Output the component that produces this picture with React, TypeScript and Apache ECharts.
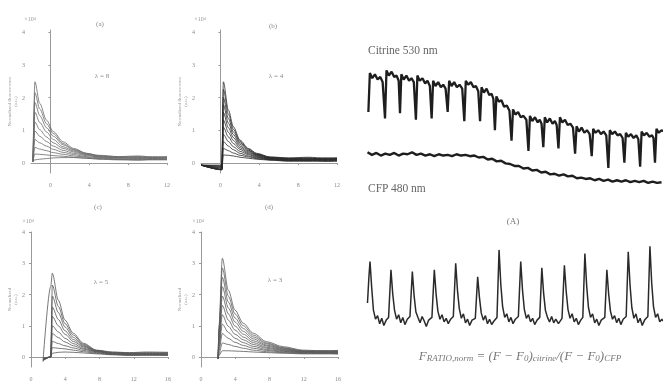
import React, { useEffect, useRef } from 'react';
import * as echarts from 'echarts';

const FONT = 'Liberation Serif, DejaVu Serif, serif';

// ---------- Left panels: families of decay curves ----------
const topXTicks = [0, 4, 8, 12];
const bottomXTicks = [0, 4, 8, 12, 16];
const yTicks = [0, 1, 2, 3, 4];

const panelAX = [-1.8, -1.6, -1.1, -0.4, 0.3, 1.3, 2.4, 3.7, 5, 7, 9, 11, 12];
const panelACurves = [
  [0.05, 2.48, 1.82, 1.31, 0.96, 0.65, 0.45, 0.3, 0.24, 0.2, 0.22, 0.18, 0.2],
  [0.05, 2.15, 1.65, 1.2, 0.9, 0.6, 0.42, 0.3, 0.22, 0.18, 0.2, 0.16, 0.18],
  [0.05, 1.85, 1.45, 1.08, 0.82, 0.56, 0.4, 0.28, 0.22, 0.2, 0.17, 0.2, 0.19],
  [0.05, 1.55, 1.24, 0.95, 0.72, 0.5, 0.37, 0.27, 0.2, 0.17, 0.19, 0.15, 0.17],
  [0.05, 1.25, 1.02, 0.8, 0.62, 0.45, 0.34, 0.25, 0.19, 0.16, 0.14, 0.17, 0.15],
  [0.05, 0.98, 0.82, 0.66, 0.52, 0.39, 0.3, 0.23, 0.18, 0.15, 0.16, 0.13, 0.14],
  [0.05, 0.72, 0.62, 0.52, 0.42, 0.33, 0.26, 0.2, 0.16, 0.13, 0.12, 0.14, 0.13],
  [0.05, 0.48, 0.43, 0.38, 0.32, 0.27, 0.22, 0.18, 0.14, 0.11, 0.12, 0.1, 0.11],
  [0.05, 0.28, 0.27, 0.25, 0.23, 0.21, 0.18, 0.15, 0.12, 0.1, 0.09, 0.11, 0.1],
  [0.05, 0.1, 0.12, 0.14, 0.16, 0.17, 0.17, 0.15, 0.13, 0.12, 0.1, 0.12, 0.11],
];

const panelBX = [-2, 0.15, 0.3, 0.82, 1.33, 2.02, 2.87, 3.74, 5.1, 7, 9, 11, 12];
const panelBCurves = [
  [-0.06, -0.06, 2.48, 1.62, 1.11, 0.7, 0.45, 0.3, 0.19, 0.16, 0.18, 0.15, 0.17],
  [-0.06, -0.08, 2.25, 1.5, 1.03, 0.66, 0.43, 0.28, 0.18, 0.15, 0.13, 0.16, 0.14],
  [-0.06, -0.1, 2.0, 1.36, 0.95, 0.62, 0.4, 0.27, 0.17, 0.14, 0.16, 0.12, 0.15],
  [-0.06, -0.12, 1.78, 1.22, 0.87, 0.57, 0.38, 0.25, 0.16, 0.13, 0.12, 0.14, 0.13],
  [-0.06, -0.14, 1.55, 1.08, 0.78, 0.52, 0.35, 0.24, 0.15, 0.12, 0.14, 0.11, 0.12],
  [-0.06, -0.16, 1.32, 0.94, 0.69, 0.47, 0.32, 0.22, 0.14, 0.11, 0.1, 0.12, 0.11],
  [-0.06, -0.18, 1.1, 0.8, 0.6, 0.42, 0.29, 0.2, 0.13, 0.1, 0.12, 0.09, 0.1],
  [-0.06, -0.2, 0.88, 0.66, 0.5, 0.36, 0.26, 0.18, 0.12, 0.09, 0.08, 0.1, 0.09],
  [-0.06, -0.2, 0.66, 0.52, 0.41, 0.3, 0.22, 0.16, 0.11, 0.08, 0.09, 0.07, 0.08],
  [-0.06, -0.2, 0.45, 0.38, 0.31, 0.24, 0.19, 0.14, 0.1, 0.07, 0.06, 0.08, 0.07],
  [-0.06, -0.2, 0.25, 0.24, 0.22, 0.18, 0.15, 0.12, 0.09, 0.06, 0.07, 0.05, 0.06],
];

const panelCX = [1.4, 2.3, 2.49, 3.19, 3.97, 4.94, 6.11, 7.67, 9.5, 11.5, 13.5, 16];
const panelCCurves = [
  [-0.15, 2.25, 2.68, 1.82, 1.18, 0.76, 0.44, 0.22, 0.16, 0.14, 0.16, 0.15],
  [-0.12, 0.0, 2.3, 1.62, 1.07, 0.7, 0.41, 0.21, 0.15, 0.13, 0.12, 0.14],
  [-0.1, 0.0, 1.95, 1.42, 0.96, 0.63, 0.38, 0.2, 0.14, 0.12, 0.14, 0.12],
  [-0.1, 0.0, 1.6, 1.2, 0.84, 0.56, 0.35, 0.19, 0.13, 0.11, 0.1, 0.12],
  [-0.08, 0.0, 1.3, 1.0, 0.73, 0.5, 0.32, 0.18, 0.12, 0.1, 0.11, 0.09],
  [-0.08, 0.0, 1.0, 0.8, 0.6, 0.43, 0.28, 0.17, 0.11, 0.09, 0.08, 0.1],
  [-0.06, 0.0, 0.75, 0.62, 0.48, 0.36, 0.25, 0.16, 0.1, 0.08, 0.09, 0.07],
  [-0.05, 0.0, 0.5, 0.43, 0.36, 0.29, 0.21, 0.14, 0.09, 0.07, 0.06, 0.08],
  [-0.05, 0.0, 0.3, 0.28, 0.26, 0.22, 0.17, 0.12, 0.08, 0.06, 0.07, 0.05],
  [-0.05, 0.0, 0.12, 0.15, 0.16, 0.15, 0.13, 0.1, 0.07, 0.05, 0.06, 0.05],
];

const panelDX = [2.0, 2.1, 2.49, 3.19, 3.97, 4.94, 6.11, 7.67, 9.6, 11.9, 14, 16];
const panelDCurves = [
  [-0.05, 1.0, 3.16, 2.14, 1.5, 1.08, 0.76, 0.49, 0.33, 0.22, 0.2, 0.21],
  [-0.05, 0.9, 2.85, 1.95, 1.38, 1.0, 0.7, 0.45, 0.3, 0.2, 0.18, 0.2],
  [-0.05, 0.8, 2.55, 1.76, 1.25, 0.91, 0.64, 0.42, 0.28, 0.19, 0.2, 0.17],
  [-0.05, 0.7, 2.25, 1.57, 1.12, 0.82, 0.58, 0.38, 0.26, 0.18, 0.16, 0.18],
  [-0.05, 0.6, 1.95, 1.38, 0.99, 0.73, 0.52, 0.35, 0.24, 0.17, 0.18, 0.15],
  [-0.05, 0.5, 1.65, 1.18, 0.86, 0.64, 0.46, 0.31, 0.22, 0.16, 0.14, 0.16],
  [-0.05, 0.4, 1.35, 0.98, 0.73, 0.55, 0.4, 0.28, 0.2, 0.15, 0.16, 0.13],
  [-0.05, 0.3, 1.05, 0.79, 0.6, 0.46, 0.34, 0.24, 0.18, 0.14, 0.12, 0.14],
  [-0.05, 0.2, 0.75, 0.6, 0.47, 0.37, 0.28, 0.21, 0.16, 0.13, 0.14, 0.11],
  [-0.05, 0.1, 0.45, 0.4, 0.34, 0.28, 0.22, 0.17, 0.14, 0.11, 0.1, 0.12],
  [-0.05, 0.05, 0.2, 0.2, 0.19, 0.18, 0.16, 0.14, 0.12, 0.1, 0.11, 0.09],
];

const panelTitles = ['(a)', '(b)', '(c)', '(d)'];
const panelParams = ['λ = 8', 'λ = 4', 'λ = 5', 'λ = 3'];

// ---------- Right: fluorescence traces ----------
const citrineTrace: [number, number][] = [
  [0.8, 60], [1.3, 90], [2.1, 86], [3.0, 89], [3.9, 85], [4.8, 87], [5.6, 83],
  [6.4, 55], [6.9, 92], [7.7, 88], [8.6, 91], [9.5, 87], [10.3, 88], [11.0, 84],
  [11.45, 59], [11.9, 89], [12.7, 85], [13.6, 88], [14.5, 84], [15.3, 86], [16.1, 83],
  [16.8, 54], [17.3, 88], [18.1, 84], [19.0, 86], [19.9, 82], [20.7, 84], [21.5, 80],
  [22.1, 55], [22.6, 84], [23.4, 80], [24.3, 83], [25.2, 79], [26.0, 81], [26.8, 78],
  [27.5, 60], [28.0, 84], [28.8, 80], [29.7, 83], [30.6, 79], [31.5, 81], [32.4, 78],
  [33.1, 53], [33.6, 84], [34.4, 81], [35.3, 83], [36.2, 79], [37.0, 80], [37.8, 76],
  [38.4, 53], [38.9, 79], [39.7, 75], [40.6, 78], [41.5, 73], [42.3, 74], [42.9, 70],
  [43.4, 46], [43.9, 72], [44.7, 68], [45.6, 69], [46.5, 64], [47.4, 65], [48.3, 61],
  [49.0, 38], [49.5, 62], [50.3, 58], [51.2, 60], [52.1, 56], [53.0, 57], [54.0, 54],
  [54.7, 30], [55.2, 57], [56.0, 53], [56.9, 56], [57.8, 52], [58.5, 54], [59.1, 51],
  [59.7, 33], [60.2, 56], [61.0, 52], [61.9, 55], [62.8, 51], [63.6, 53], [64.2, 50],
  [64.8, 32], [65.3, 56], [66.1, 52], [67.0, 54], [67.9, 50], [68.8, 51], [69.7, 48],
  [70.4, 28], [70.9, 49], [71.7, 45], [72.6, 48], [73.5, 44], [74.4, 46], [75.3, 43],
  [76.0, 26], [76.5, 47], [77.3, 44], [78.2, 46], [79.1, 43], [80.0, 45], [80.9, 42],
  [81.6, 17], [82.1, 46], [82.9, 43], [83.8, 45], [84.7, 42], [85.6, 43], [86.4, 40],
  [87.0, 21], [87.5, 44], [88.3, 41], [89.2, 43], [90.1, 40], [91.0, 42], [91.7, 39],
  [92.3, 18], [92.8, 45], [93.6, 42], [94.5, 44], [95.4, 41], [96.3, 42], [96.8, 40],
  [97.3, 21], [97.8, 47], [98.6, 44], [99.5, 46], [100, 45],
];

const cfpTrace: [number, number][] = [
  [0.5, 29], [2, 27], [3.5, 28.5], [5, 26.5], [6.5, 28], [8, 27], [9.5, 28.5], [11, 26.5],
  [12.5, 28], [14, 27.5], [15.5, 29], [17, 27], [18.5, 28], [20, 26.5], [21.5, 27.5], [23, 26],
  [24.5, 27.5], [26, 26.5], [27.5, 27], [29, 26], [30.5, 27.5], [32, 26.5], [33.5, 27], [35, 26],
  [36.5, 26.5], [38, 25], [39.5, 25.5], [41, 23.5], [42.5, 24], [44, 22], [45.5, 22.5], [47, 20.5],
  [48.5, 20], [50, 18.5], [51.5, 18.5], [53, 16.5], [54.5, 17], [56, 15], [57.5, 15.5], [59, 13.5],
  [60.5, 14], [62, 12], [63.5, 12.5], [65, 11], [66.5, 12], [68, 10.5], [69.5, 11], [71, 9],
  [72.5, 9.5], [74, 8.5], [75.5, 9], [77, 7.5], [78.5, 8.5], [80, 7], [81.5, 8], [83, 6.5],
  [84.5, 7.5], [86, 6.5], [87.5, 7.5], [89, 6], [90.5, 7], [92, 6], [93.5, 7], [95, 5.5],
  [96.5, 6.5], [98, 5.5], [99.5, 6],
];

const ratioTrace: [number, number][] = [
  [0.5, 30], [1.0, 60], [1.35, 76], [1.9, 48], [2.5, 22], [3.2, 12], [3.9, 16], [4.6, 7], [5.3, 13], [6.0, 5], [6.8, 11], [7.6, 14],
  [8.4, 67], [9.0, 40], [9.6, 22], [10.3, 12], [11.0, 17], [11.7, 8], [12.4, 14], [13.1, 6], [13.9, 12], [14.8, 15],
  [15.6, 65], [16.2, 38], [16.8, 20], [17.5, 14], [18.2, 8], [18.9, 15], [19.6, 10], [20.3, 4], [21.1, 11], [22.2, 14],
  [23.0, 67], [23.6, 40], [24.2, 21], [24.9, 12], [25.6, 17], [26.3, 9], [27.0, 13], [27.7, 7], [28.5, 12], [29.4, 15],
  [30.2, 74], [30.8, 44], [31.4, 24], [32.1, 13], [32.8, 18], [33.5, 8], [34.2, 12], [34.9, 5], [35.7, 11], [36.8, 13],
  [37.6, 59], [38.2, 36], [38.8, 19], [39.5, 11], [40.2, 16], [40.9, 7], [41.6, 12], [42.3, 6], [43.1, 10], [44.1, 14],
  [44.8, 89], [45.4, 50], [46.0, 26], [46.7, 14], [47.4, 18], [48.1, 9], [48.8, 14], [49.5, 7], [50.3, 12], [51.3, 15],
  [52.1, 76], [52.7, 44], [53.3, 23], [54.0, 13], [54.7, 17], [55.4, 9], [56.1, 13], [56.8, 6], [57.6, 11], [58.5, 14],
  [59.2, 69], [59.8, 41], [60.4, 22], [61.1, 14], [61.8, 9], [62.5, 15], [63.2, 8], [63.9, 12], [64.8, 7], [66.0, 13],
  [66.8, 72], [67.4, 43], [68.0, 23], [68.7, 13], [69.4, 18], [70.1, 9], [70.8, 13], [71.5, 6], [72.3, 11], [73.0, 14],
  [73.7, 85], [74.3, 49], [74.9, 25], [75.6, 14], [76.3, 18], [77.0, 8], [77.7, 12], [78.4, 5], [79.2, 11], [80.4, 14],
  [81.1, 67], [81.7, 40], [82.3, 21], [83.0, 12], [83.7, 16], [84.4, 8], [85.1, 13], [85.8, 6], [86.6, 12], [87.6, 15],
  [88.3, 87], [88.9, 50], [89.5, 25], [90.2, 13], [90.9, 18], [91.6, 8], [92.3, 13], [93.0, 5], [93.8, 11], [94.9, 15],
  [95.6, 93], [96.2, 52], [96.8, 26], [97.5, 14], [98.2, 18], [98.9, 9], [99.6, 12], [100, 10],
];

// ---------- Option ----------
const panels = [
  { x: panelAX, curves: panelACurves, color: '#6a6a6a', xMin: -2, xMax: 12, xTicks: topXTicks, yMin: -0.3, yMax: 4.06, yName: 'Normalized fluorescence\n(a.u.)' },
  { x: panelBX, curves: panelBCurves, color: '#2a2a2a', xMin: -2, xMax: 12, xTicks: topXTicks, yMin: -0.3, yMax: 4.06, yName: 'Normalized fluorescence\n(a.u.)' },
  { x: panelCX, curves: panelCCurves, color: '#555555', xMin: 0, xMax: 16, xTicks: bottomXTicks, yMin: -0.32, yMax: 4.0, yName: 'Normalized\n(a.u.)' },
  { x: panelDX, curves: panelDCurves, color: '#5a5a5a', xMin: 0, xMax: 16, xTicks: bottomXTicks, yMin: -0.32, yMax: 4.0, yName: 'Normalized\n(a.u.)' },
];

const grids = [
  { left: 31, top: 30, width: 136, height: 143 },
  { left: 201, top: 30, width: 136, height: 143 },
  { left: 31, top: 232, width: 137, height: 135 },
  { left: 201, top: 232, width: 137, height: 135 },
  { left: 366, top: 60, width: 297, height: 130 },
  { left: 366, top: 240, width: 297, height: 90 },
];

function buildOption() {
  const axisColor = '#9a9a9a';
  const labelColor = '#8a8a8a';
  const xAxis: any[] = [];
  const yAxis: any[] = [];
  const series: any[] = [];

  panels.forEach((p, i) => {
    xAxis.push({
      gridIndex: i,
      type: 'value',
      min: p.xMin,
      max: p.xMax,
      axisLine: { lineStyle: { color: axisColor, width: 1 } },
      axisTick: { show: true, length: 2, customValues: p.xTicks, lineStyle: { color: axisColor } },
      axisLabel: { customValues: p.xTicks, fontSize: 6, color: labelColor, margin: 9, fontFamily: FONT },
      splitLine: { show: false },
    });
    yAxis.push({
      gridIndex: i,
      type: 'value',
      min: p.yMin,
      max: p.yMax,
      axisLine: { show: true, lineStyle: { color: axisColor, width: 1 } },
      axisTick: { show: true, length: 2, customValues: yTicks, lineStyle: { color: axisColor } },
      axisLabel: { customValues: yTicks, fontSize: 6, color: labelColor, margin: 6, fontFamily: FONT },
      splitLine: { show: false },
      name: p.yName,
      nameLocation: 'middle',
      nameGap: 12,
      nameRotate: 90,
      nameTextStyle: { fontSize: 5, color: '#999', fontFamily: FONT, lineHeight: 6 },
    });
    p.curves.forEach((c) => {
      series.push({
        type: 'line',
        xAxisIndex: i,
        yAxisIndex: i,
        data: p.x.map((x, k) => [x, c[k]]),
        showSymbol: false,
        symbol: 'none',
        smooth: 0.3,
        smoothMonotone: 'x',
        lineStyle: { color: p.color, width: 0.8 },
        silent: true,
      });
    });
  });

  // right side axes (hidden)
  [4, 5].forEach((g) => {
    xAxis.push({ gridIndex: g, type: 'value', min: 0, max: 100, show: false });
    yAxis.push({ gridIndex: g, type: 'value', min: 0, max: 100, show: false });
  });
  series.push({
    type: 'line', xAxisIndex: 4, yAxisIndex: 4, data: citrineTrace, symbol: 'none',
    lineStyle: { color: '#1e1e1e', width: 2.3 }, silent: true,
  });
  series.push({
    type: 'line', xAxisIndex: 4, yAxisIndex: 4, data: cfpTrace, symbol: 'none',
    lineStyle: { color: '#1e1e1e', width: 2.4 }, silent: true,
  });
  series.push({
    type: 'line', xAxisIndex: 5, yAxisIndex: 5, data: ratioTrace, symbol: 'none',
    lineStyle: { color: '#2a2a2a', width: 1.5 }, silent: true,
  });

  const txt = (x: number, y: number, text: string, size: number, color: string, align = 'center', extra: any = {}) => ({
    type: 'text', x, y, silent: true,
    style: { text, fontSize: size, fill: color, fontFamily: FONT, align, verticalAlign: 'middle', ...extra },
  });

  const graphic: any[] = [
    txt(100, 24, panelTitles[0], 7, '#888'),
    txt(273, 26, panelTitles[1], 7, '#888'),
    txt(98, 207, panelTitles[2], 7, '#888'),
    txt(269, 207, panelTitles[3], 7, '#888'),
    txt(102, 76, panelParams[0], 7, '#888'),
    txt(276, 76, panelParams[1], 7, '#888'),
    txt(101, 282, panelParams[2], 7, '#888'),
    txt(275, 280, panelParams[3], 7, '#888'),
    txt(30, 19, '×10⁴', 6, '#999'),
    txt(200, 19, '×10⁴', 6, '#999'),
    txt(28, 221, '×10⁴', 6, '#999'),
    txt(198, 221, '×10⁴', 6, '#999'),
    txt(368, 50, 'Citrine 530 nm', 11.5, '#666', 'left'),
    txt(368, 188, 'CFP 480 nm', 11.5, '#666', 'left'),
    txt(513, 221, '(A)', 9, '#777'),
    {
      type: 'text', x: 520, y: 355, silent: true,
      style: {
        text: '{i|F}{s|RATIO,norm}{i| = (F − F}{s|0}{i|)}{s|citrine}{i|/(F − F}{s|0}{i|)}{s|CFP}',
        align: 'center', verticalAlign: 'middle',
        rich: {
          i: { fontSize: 13, fill: '#777', fontFamily: FONT, fontStyle: 'italic' },
          s: { fontSize: 9, fill: '#777', fontFamily: FONT, fontStyle: 'italic', padding: [6, 0, 0, 0] },
        },
      },
    },
  ];

  return {
    animation: false,
    backgroundColor: '#ffffff',
    grid: grids.map((g) => ({ ...g, containLabel: false, outerBoundsMode: 'none' })),
    xAxis,
    yAxis,
    series,
    graphic,
  };
}

export default function App() {
  const ref = useRef<HTMLDivElement>(null);
  useEffect(() => {
    const chart = echarts.init(ref.current!, null, { renderer: 'svg' });
    chart.setOption(buildOption() as any);
    return () => chart.dispose();
  }, []);
  return (
    <div
      ref={ref}
      style={{ position: 'fixed', left: 0, top: 0, width: 663, height: 392, background: '#fff', filter: 'blur(0.6px)' }}
    />
  );
}
